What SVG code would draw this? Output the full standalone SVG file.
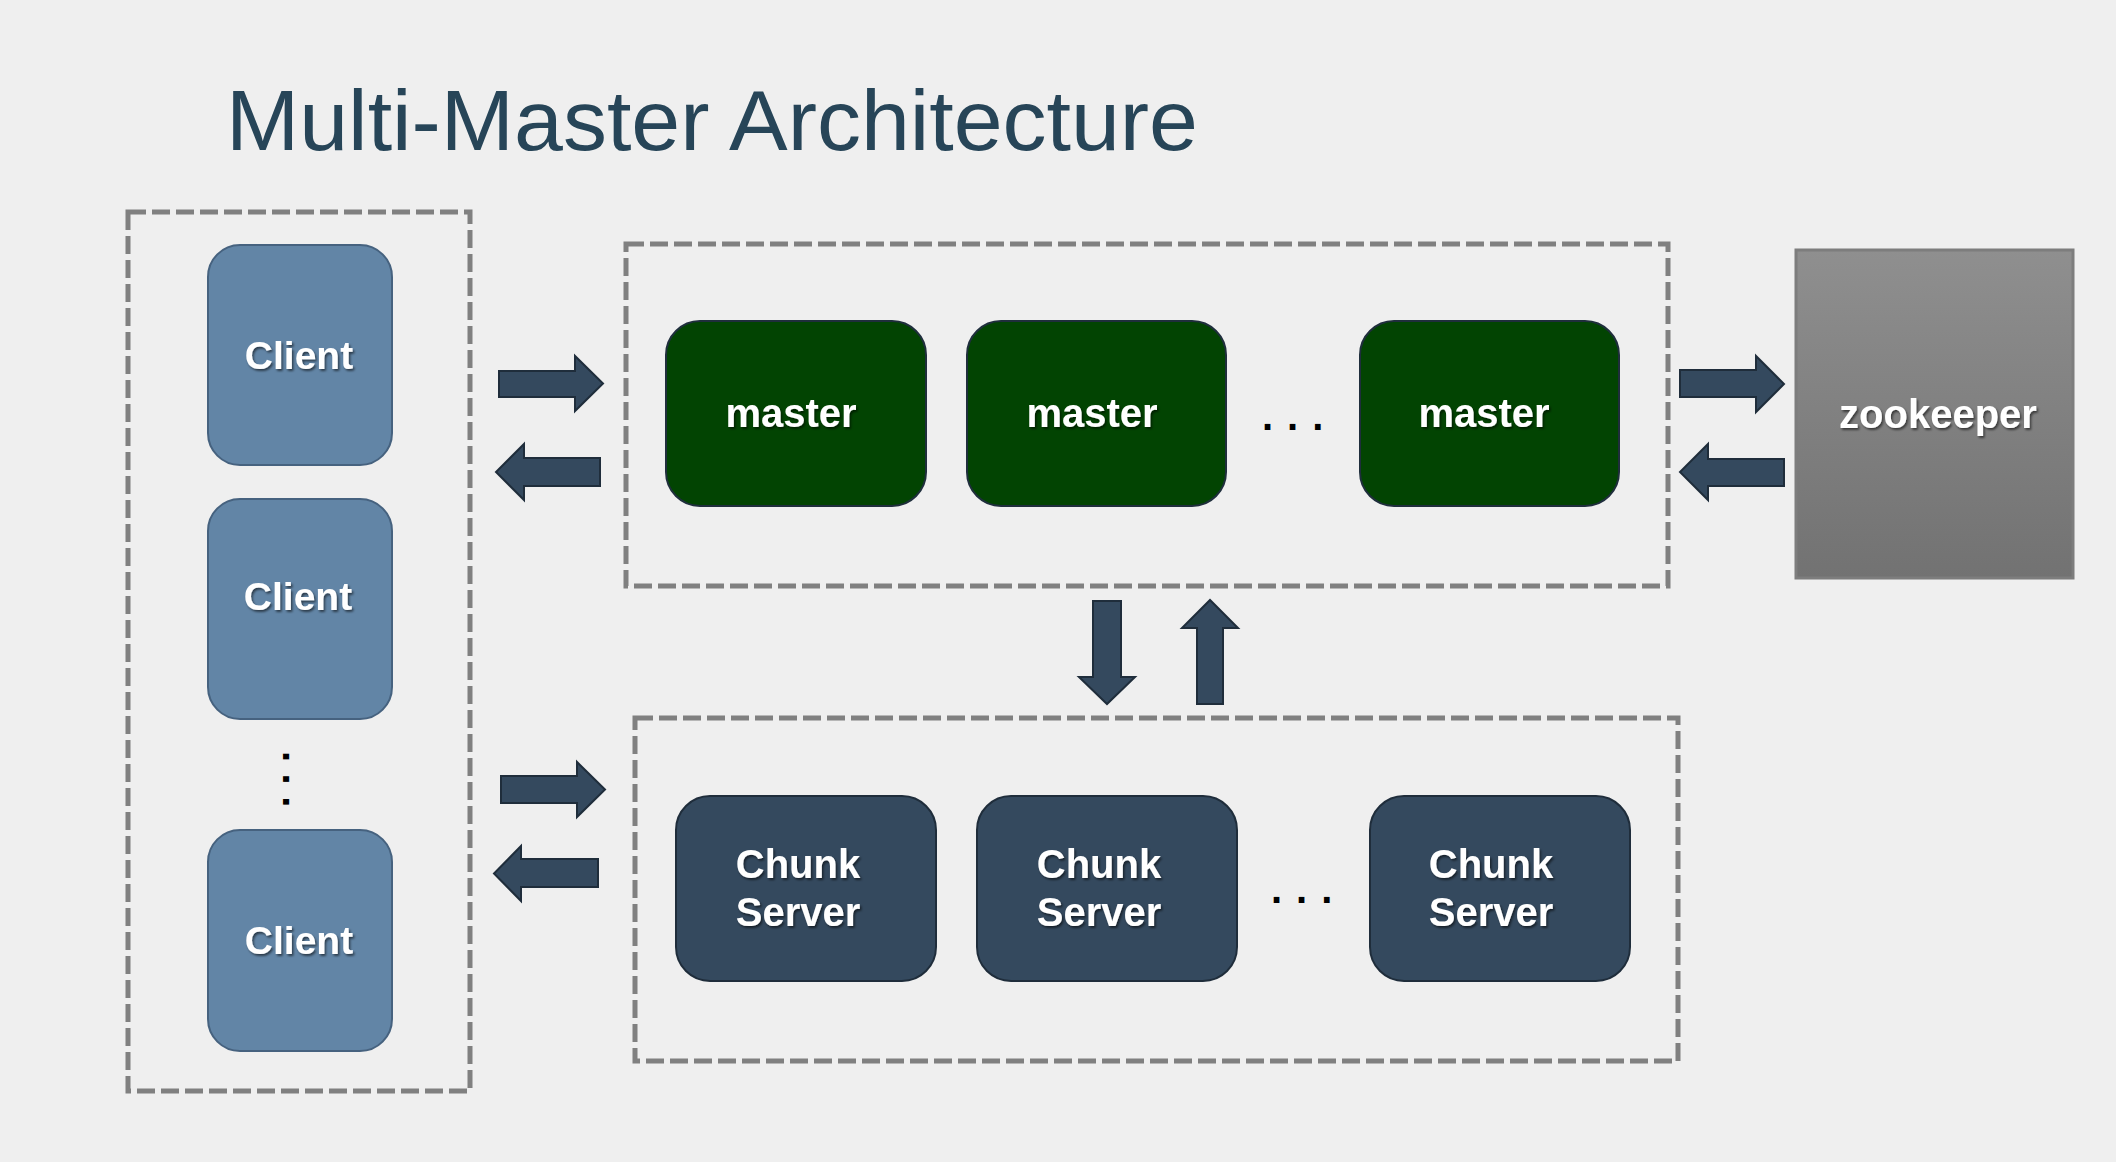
<svg xmlns="http://www.w3.org/2000/svg" width="2116" height="1162" viewBox="0 0 2116 1162">
<defs>
<linearGradient id="zkGrad" x1="0" y1="0" x2="0" y2="1">
<stop offset="0" stop-color="#8f8f8f"/>
<stop offset="1" stop-color="#727272"/>
</linearGradient>
<filter id="ts" x="-20%" y="-30%" width="140%" height="160%">
<feDropShadow dx="1.5" dy="2" stdDeviation="1.2" flood-color="#000" flood-opacity="0.55"/>
</filter>
</defs>
<style>
.bg{fill:#efefef}
.group{fill:none;stroke:#808080;stroke-width:5;stroke-dasharray:18 6}
.client{fill:#6285a6;stroke:#46627f;stroke-width:2}
.master{fill:#024402;stroke:#1f2e3c;stroke-width:2}
.chunk{fill:#34495e;stroke:#1f2d3b;stroke-width:2}
.zk{fill:url(#zkGrad);stroke:#7d7d7d;stroke-width:3}
.lbl{font-family:"Liberation Sans",Arial,sans-serif;font-weight:bold;fill:#ffffff;text-anchor:middle;filter:url(#ts)}
.arrow{fill:#34495e;stroke:#1f2d3b;stroke-width:2;stroke-linejoin:miter}
.dots{font-family:"Liberation Sans",Arial,sans-serif;font-weight:bold;font-size:40px;fill:#000000}
.title{font-family:"Liberation Sans",Arial,sans-serif;font-size:85px;fill:#274558}
</style>
<rect class="bg" x="0" y="0" width="2116" height="1162"/>
<text class="title" x="226" y="150" textLength="972" lengthAdjust="spacingAndGlyphs">Multi-Master Architecture</text>

<g id="client-group">
<rect class="group" x="128" y="212" width="342" height="879"/>
</g>
<g id="master-group">
<rect class="group" x="626" y="244" width="1042" height="342"/>
</g>
<g id="chunk-group">
<rect class="group" x="635" y="718" width="1043" height="343"/>
</g>

<g id="client1"><rect class="client" x="208" y="245" width="184" height="220" rx="32" ry="32"/><text class="lbl" x="299" y="369" font-size="39">Client</text></g>
<g id="client2"><rect class="client" x="208" y="499" width="184" height="220" rx="32" ry="32"/><text class="lbl" x="298" y="610" font-size="39">Client</text></g>
<g id="client3"><rect class="client" x="208" y="830" width="184" height="221" rx="32" ry="32"/><text class="lbl" x="299" y="954" font-size="39">Client</text></g>
<g id="client-dots"><text class="dots" transform="rotate(90 283 751)" x="283" y="751" letter-spacing="11.5">...</text></g>

<g id="master1"><rect class="master" x="666" y="321" width="260" height="185" rx="34" ry="34"/><text class="lbl" x="791" y="427" font-size="40">master</text></g>
<g id="master2"><rect class="master" x="967" y="321" width="259" height="185" rx="34" ry="34"/><text class="lbl" x="1092" y="427" font-size="40">master</text></g>
<g id="master-dots"><text class="dots" x="1262" y="430" letter-spacing="14">...</text></g>
<g id="master3"><rect class="master" x="1360" y="321" width="259" height="185" rx="34" ry="34"/><text class="lbl" x="1484" y="427" font-size="40">master</text></g>

<g id="chunk1"><rect class="chunk" x="676" y="796" width="260" height="185" rx="34" ry="34"/><text class="lbl" font-size="40"><tspan x="798" y="878">Chunk</tspan><tspan x="798" y="926">Server</tspan></text></g>
<g id="chunk2"><rect class="chunk" x="977" y="796" width="260" height="185" rx="34" ry="34"/><text class="lbl" font-size="40"><tspan x="1099" y="878">Chunk</tspan><tspan x="1099" y="926">Server</tspan></text></g>
<g id="chunk-dots"><text class="dots" x="1271" y="903" letter-spacing="14">...</text></g>
<g id="chunk3"><rect class="chunk" x="1370" y="796" width="260" height="185" rx="34" ry="34"/><text class="lbl" font-size="40"><tspan x="1491" y="878">Chunk</tspan><tspan x="1491" y="926">Server</tspan></text></g>

<g id="zookeeper"><rect class="zk" x="1796" y="250" width="277" height="328"/><text class="lbl" x="1938" y="428" font-size="40">zookeeper</text></g>

<g id="connectors">
<polygon class="arrow" points="499,371 575,371 575,356 603,383.5 575,411 575,397 499,397"/>
<polygon class="arrow" points="600,458 524,458 524,444 496,472 524,500 524,486 600,486"/>
<polygon class="arrow" points="501,776 577,776 577,762 605,789.5 577,817 577,803 501,803"/>
<polygon class="arrow" points="598,859 521,859 521,846 494,873.5 521,901 521,887 598,887"/>
<polygon class="arrow" points="1680,370 1756,370 1756,356 1784,384 1756,412 1756,397 1680,397"/>
<polygon class="arrow" points="1784,459 1708,459 1708,444 1680,472 1708,500 1708,486 1784,486"/>
<polygon class="arrow" points="1093,601 1121,601 1121,677 1135,677 1107,704 1079,677 1093,677"/>
<polygon class="arrow" points="1197,704 1197,628 1182,628 1210,600 1238,628 1223,628 1223,704"/>
</g>
</svg>
